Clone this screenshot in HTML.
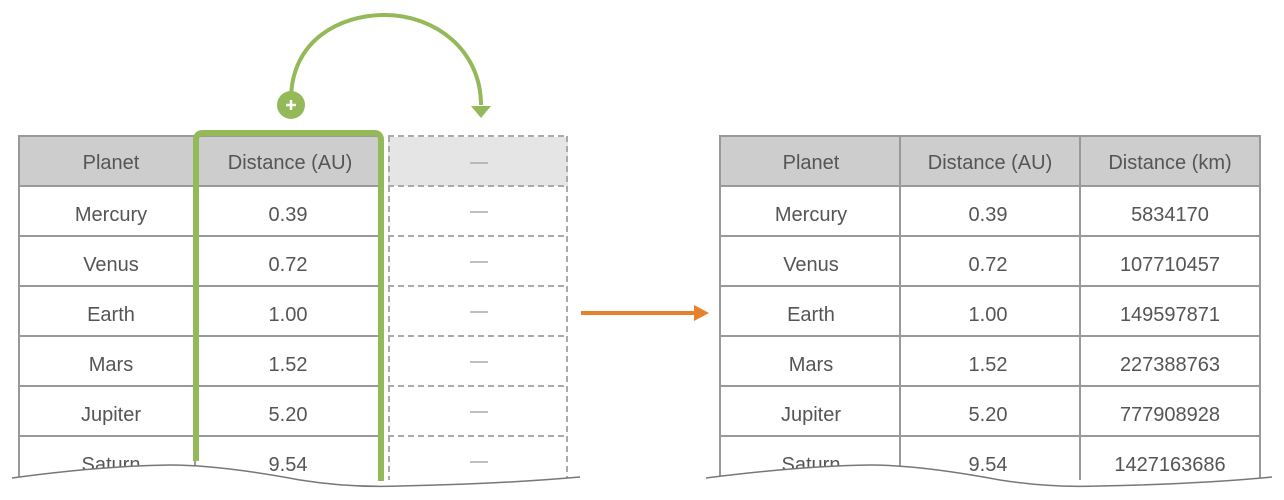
<!DOCTYPE html>
<html><head><meta charset="utf-8"><style>
html,body{margin:0;padding:0;background:#fff;width:1284px;height:500px;overflow:hidden}
text{font-family:"Liberation Sans",sans-serif;font-size:20px;fill:#555;text-anchor:middle}
</style></head><body>
<svg width="1284" height="500" viewBox="0 0 1284 500" xmlns="http://www.w3.org/2000/svg">
<!-- left table -->
<rect x="19" y="137" width="362" height="49" fill="#cdcdcd"/>
<rect x="388" y="137" width="180" height="49" fill="#e5e5e5"/>
<g stroke="#999" stroke-width="2" fill="none">
<line x1="19" y1="136" x2="19" y2="480"/>
<line x1="195" y1="136" x2="195" y2="480"/>
<line x1="381" y1="136" x2="381" y2="480"/>
<line x1="18" y1="136" x2="381" y2="136"/>
<line x1="18" y1="186" x2="381" y2="186"/>
<line x1="18" y1="236" x2="381" y2="236"/>
<line x1="18" y1="286" x2="381" y2="286"/>
<line x1="18" y1="336" x2="381" y2="336"/>
<line x1="18" y1="386" x2="381" y2="386"/>
<line x1="18" y1="436" x2="381" y2="436"/>
</g>
<g stroke="#aaa" stroke-width="2" fill="none" stroke-dasharray="6,4">
<line x1="388" y1="136" x2="568" y2="136"/>
<line x1="388" y1="186" x2="568" y2="186"/>
<line x1="388" y1="236" x2="568" y2="236"/>
<line x1="388" y1="286" x2="568" y2="286"/>
<line x1="388" y1="336" x2="568" y2="336"/>
<line x1="388" y1="386" x2="568" y2="386"/>
<line x1="388" y1="436" x2="568" y2="436"/>
<line x1="567" y1="136" x2="567" y2="480"/>
<line x1="389" y1="136" x2="389" y2="480"/>
</g>
<g stroke="#aaa" stroke-width="1.5">
<line x1="470" y1="163" x2="488" y2="163"/>
<line x1="470" y1="212" x2="488" y2="212"/>
<line x1="470" y1="262" x2="488" y2="262"/>
<line x1="470" y1="312" x2="488" y2="312"/>
<line x1="470" y1="362" x2="488" y2="362"/>
<line x1="470" y1="412" x2="488" y2="412"/>
<line x1="470" y1="462" x2="488" y2="462"/>
</g>
<text x="111" y="169">Planet</text><text x="290" y="169">Distance (AU)</text>
<text x="111" y="221">Mercury</text><text x="288" y="221">0.39</text>
<text x="111" y="271">Venus</text><text x="288" y="271">0.72</text>
<text x="111" y="321">Earth</text><text x="288" y="321">1.00</text>
<text x="111" y="371">Mars</text><text x="288" y="371">1.52</text>
<text x="111" y="421">Jupiter</text><text x="288" y="421">5.20</text>
<text x="111" y="471">Saturn</text><text x="288" y="471">9.54</text>
<!-- green bracket -->
<path d="M196 461 V140 Q196 133 203 133 H374 Q381 133 381 140 V481" stroke="#93b958" stroke-width="6" fill="none"/>
<path d="M291 100 C291 40 340 15 385 15 C435 15 481 50 481 105" stroke="#93b958" stroke-width="4" fill="none"/>
<path d="M471 106 L491 106 L481 118 Z" fill="#93b958"/>
<circle cx="291" cy="105" r="14" fill="#93b958"/>
<path d="M286 105 H296 M291 100 V110" stroke="#fff" stroke-width="2.5"/>
<!-- wave mask left -->
<path d="M0 478 L12 478 Q100 466 170 465 Q220 465 300 480 Q350 488 400 486 Q500 484 580 477 L580 500 L0 500 Z" fill="#fff"/>
<path d="M12 478 Q100 466 170 465 Q220 465 300 480 Q350 488 400 486 Q500 484 580 477" stroke="#777" stroke-width="1.5" fill="none"/>
<!-- orange arrow -->
<line x1="581" y1="313" x2="697" y2="313" stroke="#e8812c" stroke-width="4"/>
<path d="M694 305 L709 313 L694 321 Z" fill="#e8812c"/>
<!-- right table -->
<rect x="720" y="137" width="540" height="49" fill="#cdcdcd"/>
<g stroke="#999" stroke-width="2" fill="none">
<line x1="720" y1="136" x2="720" y2="480"/>
<line x1="900" y1="136" x2="900" y2="480"/>
<line x1="1080" y1="136" x2="1080" y2="480"/>
<line x1="1260" y1="136" x2="1260" y2="480"/>
<line x1="719" y1="136" x2="1261" y2="136"/>
<line x1="719" y1="186" x2="1261" y2="186"/>
<line x1="719" y1="236" x2="1261" y2="236"/>
<line x1="719" y1="286" x2="1261" y2="286"/>
<line x1="719" y1="336" x2="1261" y2="336"/>
<line x1="719" y1="386" x2="1261" y2="386"/>
<line x1="719" y1="436" x2="1261" y2="436"/>
</g>
<text x="811" y="169">Planet</text><text x="990" y="169">Distance (AU)</text><text x="1170" y="169">Distance (km)</text>
<text x="811" y="221">Mercury</text><text x="988" y="221">0.39</text><text x="1170" y="221">5834170</text>
<text x="811" y="271">Venus</text><text x="988" y="271">0.72</text><text x="1170" y="271">107710457</text>
<text x="811" y="321">Earth</text><text x="988" y="321">1.00</text><text x="1170" y="321">149597871</text>
<text x="811" y="371">Mars</text><text x="988" y="371">1.52</text><text x="1170" y="371">227388763</text>
<text x="811" y="421">Jupiter</text><text x="988" y="421">5.20</text><text x="1170" y="421">777908928</text>
<text x="811" y="471">Saturn</text><text x="988" y="471">9.54</text><text x="1170" y="471">1427163686</text>
<path d="M700 478 L706 478 Q800 466 870 465 Q920 465 1000 480 Q1050 488 1100 486 Q1200 484 1272 477 L1284 477 L1284 500 L700 500 Z" fill="#fff"/>
<path d="M706 478 Q800 466 870 465 Q920 465 1000 480 Q1050 488 1100 486 Q1200 484 1272 477" stroke="#777" stroke-width="1.5" fill="none"/>
</svg>
</body></html>
